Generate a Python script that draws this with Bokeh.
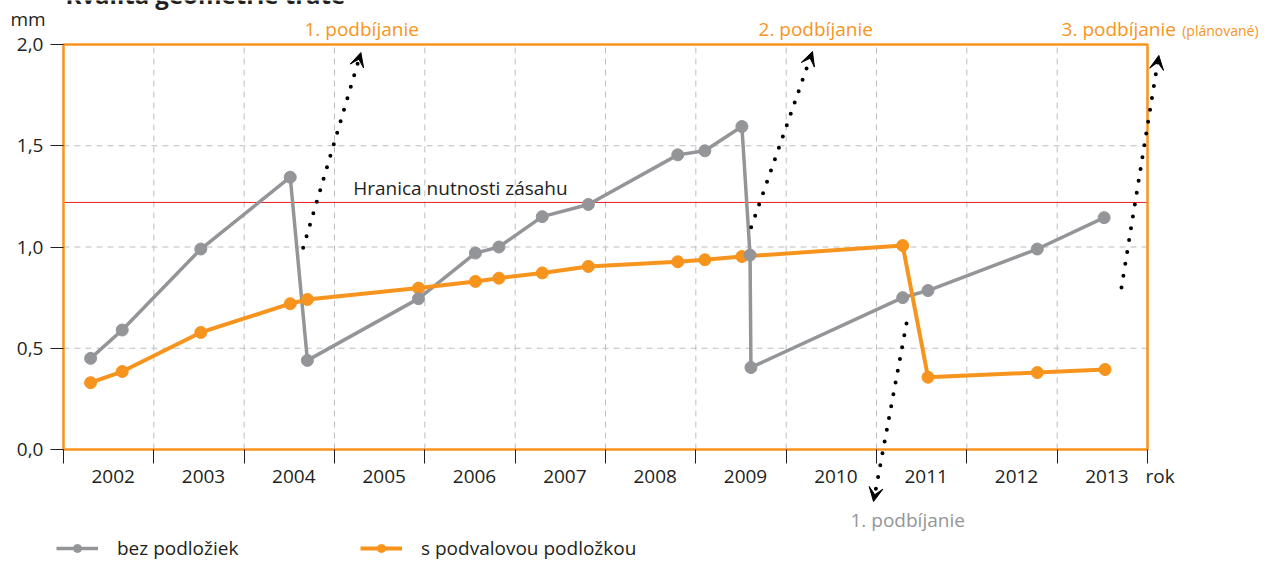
from bokeh.plotting import figure
from bokeh.models import (Range1d, FixedTicker, LinearAxis, Label, Arrow, VeeHead,
                          Legend, LegendItem)
from bokeh.embed import file_html
from bokeh.resources import INLINE

# ---------------- data ----------------
YEARS = [2002, 2003, 2004, 2005, 2006, 2007, 2008, 2009, 2010, 2011, 2012, 2013]
YEAR_LABELS = [str(y) for y in YEARS]
Y_TICKS = [0, 0.5, 1, 1.5, 2]
Y_TICK_LABELS = ["0,0", "0,5", "1,0", "1,5", "2,0"]

X_GRAY = [2002.30, 2002.65, 2003.52, 2004.51, 2004.70, 2005.93, 2006.56, 2006.82,
          2007.30, 2007.81, 2008.80, 2009.10, 2009.51, 2009.60, 2009.61, 2011.29,
          2011.57, 2012.78, 2013.52]
Y_GRAY = [0.45, 0.59, 0.99, 1.345, 0.44, 0.745, 0.97, 1.00,
          1.15, 1.21, 1.455, 1.475, 1.595, 0.96, 0.405, 0.75,
          0.785, 0.99, 1.145]

X_ORANGE = [2002.30, 2002.65, 2003.52, 2004.51, 2004.70, 2005.93, 2006.56, 2006.82,
            2007.30, 2007.81, 2008.80, 2009.10, 2009.51, 2011.29, 2011.57, 2012.78,
            2013.53]
Y_ORANGE = [0.33, 0.385, 0.578, 0.72, 0.741, 0.797, 0.83, 0.846,
            0.872, 0.904, 0.927, 0.937, 0.953, 1.007, 0.357, 0.38,
            0.395]

THRESHOLD = 1.22
SERIES_NAMES = ["bez podložiek", "s podvalovou podložkou"]

# ---------------- style ----------------
ORANGE = "#F7941D"
GRAY = "#939598"
TEXT = "#231F20"
RED = "#ED1C24"
GRID = "#BCBEC0"
FONT = "Open Sans"
FS = "19px"

X0, X1 = 2002, 2014
X_RANGE = (2001.3026, 2015.4058)
Y_RANGE = (-0.5531, 2.2173)

p = figure(width=1274, height=561, x_range=Range1d(*X_RANGE), y_range=Range1d(*Y_RANGE),
           output_backend="svg", toolbar_location=None, x_axis_type=None, y_axis_type=None,
           min_border=0, min_border_left=0, min_border_right=0, min_border_top=0,
           min_border_bottom=0)
p.outline_line_color = None
p.background_fill_color = "white"

# y axis
yaxis = LinearAxis(fixed_location=X0, ticker=FixedTicker(ticks=Y_TICKS),
                   major_label_overrides=dict(zip(Y_TICKS, Y_TICK_LABELS)),
                   bounds=(0, 2), axis_line_color=None,
                   major_tick_out=13, major_tick_in=0, major_tick_line_color=TEXT,
                   minor_tick_line_color=None, major_label_standoff=7,
                   major_label_text_font=FONT, major_label_text_font_size=FS,
                   major_label_text_color=TEXT)
p.add_layout(yaxis, "left")

# x axis tick marks (year boundaries)
bounds_ticks = list(range(X0, X1 + 1))
xaxis = LinearAxis(fixed_location=0, ticker=FixedTicker(ticks=bounds_ticks),
                   major_label_overrides={t: "" for t in bounds_ticks},
                   axis_line_color=None, major_tick_out=14, major_tick_in=0,
                   major_tick_line_color=TEXT, minor_tick_line_color=None)
p.add_layout(xaxis, "below")

# x axis year labels (centred in each year)
label_pos = [y + 0.55 for y in YEARS]
xlab = LinearAxis(fixed_location=0, ticker=FixedTicker(ticks=label_pos),
                  major_label_overrides=dict(zip(label_pos, YEAR_LABELS)),
                  axis_line_color=None, major_tick_line_color=None, major_tick_out=0,
                  major_tick_in=0, minor_tick_line_color=None, major_label_standoff=21,
                  major_label_text_font=FONT, major_label_text_font_size=FS,
                  major_label_text_color=TEXT)
p.add_layout(xlab, "below")

# grid lines
inner_years = YEARS[1:]
p.segment(x0=inner_years, y0=[0] * len(inner_years), x1=inner_years, y1=[2] * len(inner_years),
          line_color=GRID, line_width=1, line_dash="6 5")
hy = [0.5, 1.0, 1.5]
p.segment(x0=[X0] * 3, y0=hy, x1=[X1] * 3, y1=hy, line_color=GRID, line_width=1, line_dash="6 5")

# threshold
p.segment(x0=[X0], y0=[THRESHOLD], x1=[X1], y1=[THRESHOLD], line_color=RED, line_width=1)

# frame
p.quad(left=[X0], right=[X1], bottom=[0], top=[2], fill_color=None,
       line_color=ORANGE, line_width=2.5)

# series
gl = p.line(X_GRAY, Y_GRAY, line_color=GRAY, line_width=3.5, line_join="round")
ol = p.line(X_ORANGE, Y_ORANGE, line_color=ORANGE, line_width=4, line_join="round")
op = p.scatter(X_ORANGE, Y_ORANGE, size=12, fill_color=ORANGE, line_color=ORANGE)
gp = p.scatter(X_GRAY, Y_GRAY, size=12, fill_color=GRAY, line_color=GRAY)

# dotted arrows (tamping interventions)
arrows = [
    (2004.653, 0.996, 2005.292, 1.960),
    (2009.613, 1.098, 2010.291, 1.965),
    (2013.712, 0.800, 2014.125, 1.946),
    (2011.332, 0.622, 2010.967, -0.257),
]
for xs, ys, xe, ye in arrows:
    p.add_layout(Arrow(x_start=xs, y_start=ys, x_end=xe, y_end=ye,
                       line_color="black", line_width=4, line_dash="0 12", line_cap="round",
                       end=VeeHead(size=14, fill_color="black", line_color="black", line_width=1)))

# texts
def lab(x, y, text, color=TEXT, size=FS, style="normal"):
    p.add_layout(Label(x=x, y=y, text=text, text_font=FONT, text_font_size=size,
                       text_color=color, text_baseline="alphabetic", text_align="left",
                       text_font_style=style))

lab(2002.022, 2.2445, "Kvalita geometrie trate", size="24px", style="bold")
lab(2001.4133, 2.1235, "mm")
lab(2004.668, 2.0766, "1. podbíjanie", color=ORANGE)
lab(2009.694, 2.0766, "2. podbíjanie", color=ORANGE)
lab(2013.049, 2.0766, "3. podbíjanie", color=ORANGE)
lab(2014.384, 2.0667, "(plánované)", color=ORANGE, size="14px")
lab(2005.207, 1.2889, "Hranica nutnosti zásahu")
lab(2010.712, -0.3506, "1. podbíjanie", color=GRAY)
lab(2013.978, -0.1299, "rok")

legend = Legend(items=[LegendItem(label=SERIES_NAMES[0], renderers=[gl, gp]),
                       LegendItem(label=SERIES_NAMES[1], renderers=[ol, op])],
                location=(56, 0), orientation="horizontal", glyph_width=42, glyph_height=20,
                label_standoff=19, label_width=243, spacing=0, padding=0, margin=0,
                border_line_color=None, background_fill_alpha=0,
                label_text_font=FONT, label_text_font_size=FS, label_text_color=TEXT)
p.add_layout(legend, "center")

open("out.html", "w").write(file_html(p, INLINE))
